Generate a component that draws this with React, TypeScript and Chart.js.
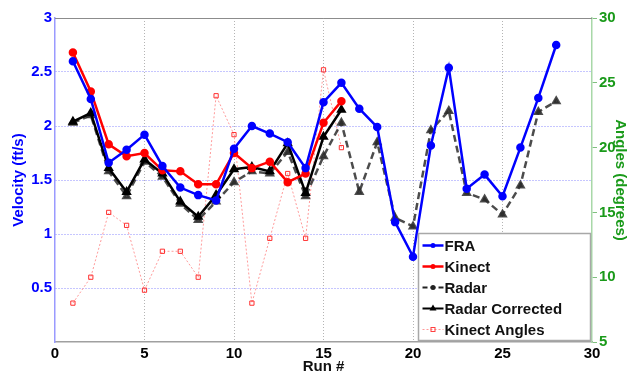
import React, { useEffect, useRef } from "react";
import { Chart, registerables } from "chart.js";

Chart.register(...registerables);

const runs = [1, 2, 3, 4, 5, 6, 7, 8, 9, 10, 11, 12, 13, 14, 15, 16, 17, 18, 19, 20, 21, 22, 23, 24, 25, 26, 27, 28];
const fra = [2.6, 2.25, 1.66, 1.78, 1.92, 1.63, 1.43, 1.36, 1.31, 1.79, 2.0, 1.93, 1.85, 1.61, 2.22, 2.4, 2.16, 1.99, 1.11, 0.79, 1.82, 2.54, 1.42, 1.55, 1.35, 1.8, 2.26, 2.75];
const kinect = [2.68, 2.32, 1.83, 1.72, 1.75, 1.59, 1.58, 1.46, 1.46, 1.75, 1.61, 1.67, 1.48, 1.56, 2.03, 2.23];
const radar = [2.03, 2.1, 1.58, 1.35, 1.67, 1.53, 1.28, 1.13, 1.3, 1.48, 1.58, 1.56, 1.76, 1.35, 1.72, 2.03, 1.39, 1.85, 1.15, 1.07, 1.96, 2.14, 1.38, 1.32, 1.18, 1.45, 2.13, 2.23];
const radarCorrected = [2.04, 2.12, 1.61, 1.39, 1.69, 1.56, 1.3, 1.16, 1.36, 1.6, 1.62, 1.58, 1.84, 1.38, 1.9, 2.15];
const kinectAngles = [8, 10, 15, 14, 9, 12, 12, 10, 24, 21, 8, 13, 18, 13, 26, 20];

const xTicks = [0, 5, 10, 15, 20, 25, 30];
const velocityTicks = [0.5, 1, 1.5, 2, 2.5, 3];
const angleTicks = [5, 10, 15, 20, 25, 30];

const FONT = "'Liberation Sans', Arial, sans-serif";
const BLUE = "#0000ff";
const RED = "#ff0000";
const GREEN = "#1a9a1a";

const pts = (vals: number[]) => vals.map((v, i) => ({ x: runs[i], y: v }));

const legendItems = [
  { label: "FRA", color: BLUE, dash: [] as number[], width: 2.5, marker: "circle" },
  { label: "Kinect", color: RED, dash: [] as number[], width: 2.5, marker: "circle" },
  { label: "Radar", color: "#222222", dash: [5, 3], width: 2, marker: "circle" },
  { label: "Radar Corrected", color: "#000000", dash: [] as number[], width: 2, marker: "triangle" },
  { label: "Kinect Angles", color: "#ff9a9a", dash: [2, 2], width: 1, marker: "rect" },
];

const extrasPlugin = {
  id: "extras",
  afterDraw(chart: any) {
    const { ctx, chartArea } = chart;
    ctx.save();
    ctx.strokeStyle = "#8c8c8c";
    ctx.lineWidth = 1;
    ctx.beginPath();
    ctx.moveTo(chartArea.left, chartArea.top + 0.5);
    ctx.lineTo(chartArea.right, chartArea.top + 0.5);
    ctx.stroke();

    const w = 172;
    const h = 107;
    const bx = Math.round(chartArea.right - w - 2) + 0.5;
    const by = Math.round(chartArea.bottom - h - 2) + 0.5;
    ctx.fillStyle = "#ffffff";
    ctx.fillRect(bx, by, w, h);
    ctx.strokeStyle = "#a8a8a8";
    ctx.lineWidth = 1.5;
    ctx.strokeRect(bx, by, w, h);
    ctx.font = `bold 15px ${FONT}`;
    ctx.textBaseline = "middle";
    legendItems.forEach((it, i) => {
      const y = by + 12 + i * 21;
      ctx.strokeStyle = it.color;
      ctx.lineWidth = it.width;
      ctx.setLineDash(it.dash);
      ctx.beginPath();
      ctx.moveTo(bx + 4, y);
      ctx.lineTo(bx + 25, y);
      ctx.stroke();
      ctx.setLineDash([]);
      const mx = bx + 14.5;
      if (it.marker === "circle") {
        ctx.fillStyle = it.color;
        ctx.beginPath();
        ctx.arc(mx, y, 2.5, 0, Math.PI * 2);
        ctx.fill();
      } else if (it.marker === "triangle") {
        ctx.fillStyle = it.color;
        ctx.beginPath();
        ctx.moveTo(mx, y - 4);
        ctx.lineTo(mx + 3.5, y + 2);
        ctx.lineTo(mx - 3.5, y + 2);
        ctx.closePath();
        ctx.fill();
      } else {
        ctx.strokeStyle = "#ff4040";
        ctx.lineWidth = 1;
        ctx.strokeRect(mx - 2, y - 2, 4, 4);
      }
      ctx.fillStyle = "#111111";
      ctx.fillText(it.label, bx + 26, y + 1);
    });
    ctx.restore();
  },
};

export default function App() {
  const ref = useRef<HTMLCanvasElement | null>(null);
  useEffect(() => {
    document.body.style.margin = "0";
    const canvas = ref.current;
    if (!canvas) return;
    const chart = new Chart(canvas, {
      type: "line",
      data: {
        datasets: [
          {
            label: "FRA",
            data: pts(fra),
            borderColor: BLUE,
            backgroundColor: BLUE,
            borderWidth: 2.5,
            pointRadius: 3,
            pointStyle: "circle",
            yAxisID: "y",
            order: 1,
          },
          {
            label: "Kinect",
            data: pts(kinect),
            borderColor: RED,
            backgroundColor: RED,
            borderWidth: 2.5,
            pointRadius: 3,
            yAxisID: "y",
            order: 2,
          },
          {
            label: "Radar",
            data: pts(radar),
            borderColor: "rgba(45,45,45,0.85)",
            backgroundColor: "rgba(45,45,45,0.85)",
            borderWidth: 2.5,
            borderDash: [7, 4],
            pointStyle: "triangle",
            pointRadius: 3.5,
            yAxisID: "y",
            order: 4,
          },
          {
            label: "Radar Corrected",
            data: pts(radarCorrected),
            borderColor: "#000000",
            backgroundColor: "#000000",
            borderWidth: 2.5,
            pointStyle: "triangle",
            pointRadius: 3.5,
            yAxisID: "y",
            order: 3,
          },
          {
            label: "Kinect Angles",
            data: pts(kinectAngles),
            borderColor: "#ff9a9a",
            backgroundColor: "rgba(255,255,255,0)",
            pointBorderColor: "#ff3030",
            pointBorderWidth: 1,
            borderWidth: 1,
            borderDash: [2, 2],
            pointStyle: "rect",
            pointRadius: 3,
            yAxisID: "y2",
            order: 5,
          },
        ],
      },
      options: {
        animation: false,
        responsive: false,
        maintainAspectRatio: false,
        layout: { padding: { top: 18, left: 0, right: 0, bottom: 0 } },
        plugins: {
          legend: { display: false },
          tooltip: { enabled: false },
        },
        elements: { line: { tension: 0 } },
        scales: {
          x: {
            type: "linear",
            min: 0,
            max: 30,
            afterBuildTicks: (s: any) => {
              s.ticks = xTicks.map((v) => ({ value: v }));
            },
            afterFit: (s: any) => {
              s.height = 30;
            },
            ticks: {
              color: "#000000",
              font: { family: FONT, size: 15, weight: "bold" },
              padding: 3,
              maxRotation: 0,
              autoSkip: false,
              callback: (v: any) => String(v),
            },
            grid: {
              drawTicks: false,
              color: (c: any) => (c.tick && (c.tick.value === 0 || c.tick.value === 30) ? "rgba(0,0,0,0)" : "#b4b4b4"),
              lineWidth: 1,
            },
            border: { display: true, color: "#a0a0a0", width: 1.5, dash: [1, 2] },
            title: {
              display: true,
              text: "Run #",
              color: "#111111",
              font: { family: FONT, size: 15, weight: "bold" },
              padding: { top: 0, bottom: -4 },
            },
          },
          y: {
            type: "linear",
            position: "left",
            min: 0,
            max: 3,
            afterBuildTicks: (s: any) => {
              s.ticks = velocityTicks.map((v) => ({ value: v }));
            },
            afterFit: (s: any) => {
              s.width = 55;
            },
            ticks: {
              color: BLUE,
              font: { family: FONT, size: 15, weight: "bold" },
              padding: 3,
              callback: (v: any) => String(v),
            },
            grid: {
              drawTicks: false,
              color: (c: any) => (c.tick && c.tick.value === 3 ? "rgba(0,0,0,0)" : "#8c8cff"),
              lineWidth: 1,
            },
            border: { display: true, color: "#9a9aff", width: 1.5, dash: [1, 2] },
            title: {
              display: true,
              text: "Velocity (ft/s)",
              color: BLUE,
              font: { family: FONT, size: 15, weight: "bold" },
              padding: { top: 10, bottom: 0 },
            },
          },
          y2: {
            type: "linear",
            position: "right",
            min: 5,
            max: 30,
            afterBuildTicks: (s: any) => {
              s.ticks = angleTicks.map((v) => ({ value: v }));
            },
            afterFit: (s: any) => {
              s.width = 42;
            },
            ticks: {
              color: GREEN,
              font: { family: FONT, size: 15, weight: "bold" },
              padding: 2,
              callback: (v: any) => String(v),
            },
            grid: {
              drawOnChartArea: false,
              drawTicks: true,
              tickLength: 5,
              color: "#7fc07f",
              lineWidth: 1,
            },
            border: { display: true, color: "#a8d8a8", width: 1.5 },
            title: {
              display: true,
              text: "Angles (degrees)",
              color: GREEN,
              font: { family: FONT, size: 15, weight: "bold" },
              padding: { top: 5, bottom: 0 },
            },
          },
        },
      },
      plugins: [extrasPlugin],
    } as any);
    return () => chart.destroy();
  }, []);
  return (
    <div style={{ width: 634, height: 372, background: "#ffffff" }}>
      <canvas ref={ref} width={634} height={372} style={{ display: "block", width: 634, height: 372 }} />
    </div>
  );
}
